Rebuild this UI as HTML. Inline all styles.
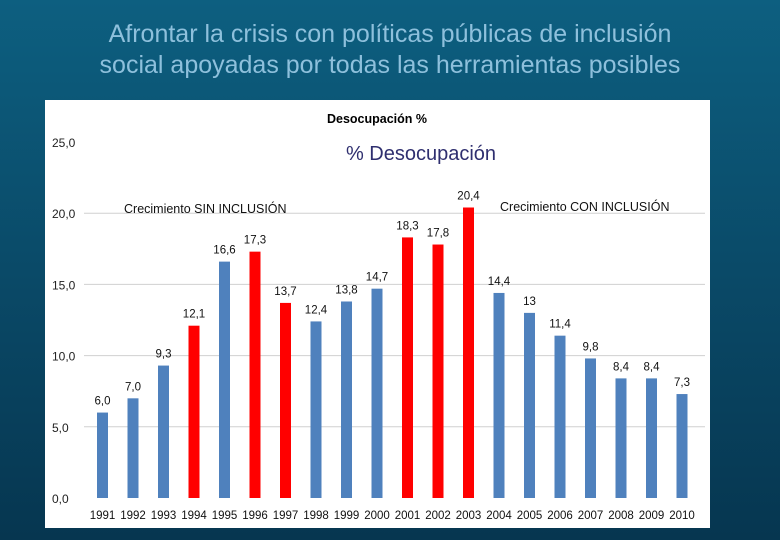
<!DOCTYPE html>
<html><head><meta charset="utf-8"><style>
body{margin:0;width:780px;height:540px;overflow:hidden;background:linear-gradient(#0d5f80,#0a4a68 50%,#063650);font-family:"Liberation Sans",sans-serif}
.t{position:absolute;left:0;width:780px;text-align:center;color:#8ec0dc;font-size:25px;line-height:31px;top:19px}
</style></head><body>
<div class="t">Afrontar la crisis con políticas públicas de inclusión<br>social apoyadas por todas las herramientas posibles</div>
<svg id="c" width="780" height="540" style="position:absolute;left:0;top:0"></svg>
<script>
const years=[1991,1992,1993,1994,1995,1996,1997,1998,1999,2000,2001,2002,2003,2004,2005,2006,2007,2008,2009,2010];
const values=[6.0,7.0,9.3,12.1,16.6,17.3,13.7,12.4,13.8,14.7,18.3,17.8,20.4,14.4,13,11.4,9.8,8.4,8.4,7.3];
const labels=["6,0","7,0","9,3","12,1","16,6","17,3","13,7","12,4","13,8","14,7","18,3","17,8","20,4","14,4","13","11,4","9,8","8,4","8,4","7,3"];
const redYears=[1994,1996,1997,2001,2002,2003];
const yTicks=[0,5,10,15,20,25];
const yTickLabels=["0,0","5,0","10,0","15,0","20,0","25,0"];
const NS="http://www.w3.org/2000/svg",svg=document.getElementById('c');
function y(v){return 498-v*14.24;}
function x(i){return 102.5+i*30.5;}
function mk(t,a,txt){const e=document.createElementNS(NS,t);for(const k in a)e.setAttribute(k,a[k]);if(txt!=null)e.textContent=txt;svg.appendChild(e);return e;}
let e=mk('rect',{x:45,y:100,width:665,height:428,fill:'#fff'});


yTicks.forEach((v,i)=>{
 if(v>0&&v<25){let g=mk('line',{x1:84,x2:705,y1:y(v),y2:y(v),stroke:'#d0d0d0','stroke-width':1});
 
 }
 let t=mk('text',{x:52,y:y(v)+5,'font-size':12,fill:'#222'},yTickLabels[i]);
 
 
});
values.forEach((v,i)=>{
 const red=redYears.includes(years[i]);
 let b=mk('rect',{x:x(i)-5.5,y:y(v),width:11,height:y(0)-y(v),fill:red?'#ff0000':'#4f81bd'});
 
 
 let l=mk('text',{x:x(i),y:y(v)-8,'font-size':11.5,'text-anchor':'middle',fill:'#111'},labels[i]);
 
 
 let yl=mk('text',{x:x(i),y:519,'font-size':11.5,'text-anchor':'middle',fill:'#111'},years[i]);
 
 
});
e=mk('text',{x:377,y:123,'font-size':12.5,'font-weight':'bold','text-anchor':'middle',fill:'#000'},'Desocupación %');


e=mk('text',{x:421,y:160,'font-size':20,'text-anchor':'middle',fill:'#2f2f6f'},'% Desocupación');


e=mk('text',{x:124,y:213,'font-size':12.5,fill:'#111'},'Crecimiento SIN INCLUSIÓN');


e=mk('text',{x:500,y:211,'font-size':12.5,fill:'#111'},'Crecimiento CON INCLUSIÓN');


</script>
</body></html>
